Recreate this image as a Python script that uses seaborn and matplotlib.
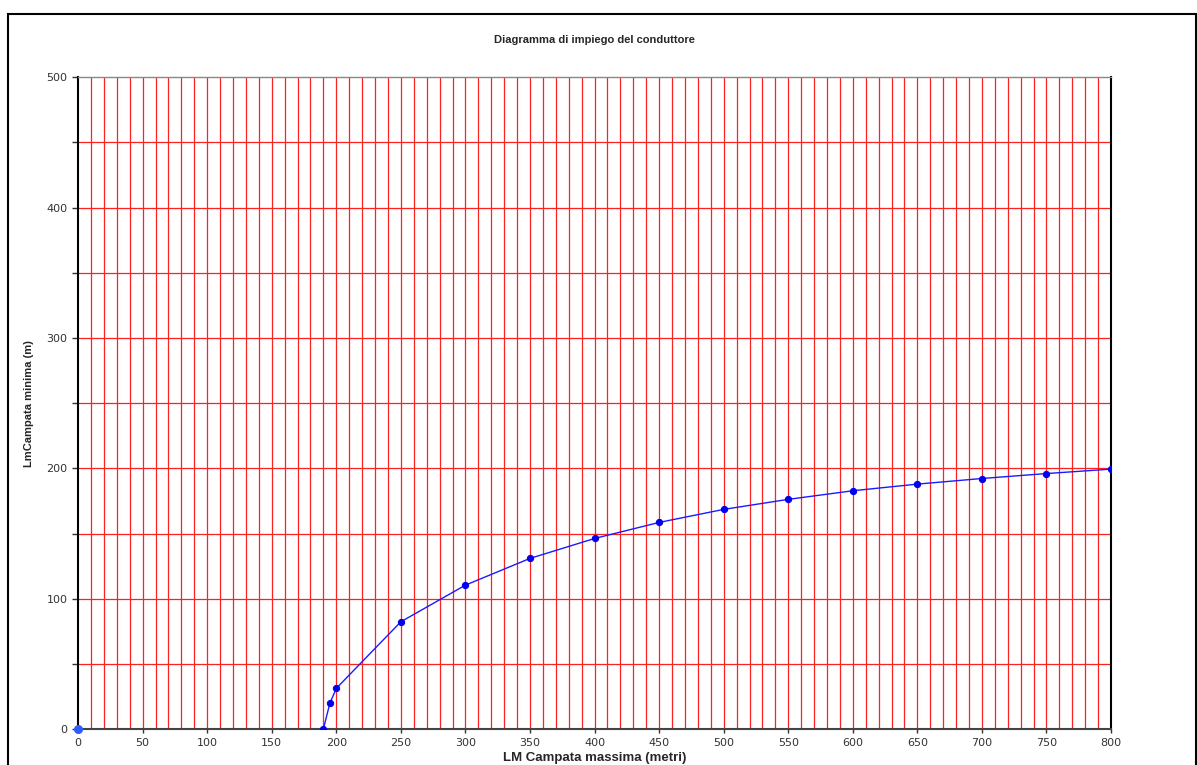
"""
Diagramma di impiego del conduttore: campata minima vs campata massima.
"""

import numpy as np
import pandas as pd
import seaborn as sns
import matplotlib.pyplot as plt
from matplotlib.patches import Rectangle
from matplotlib.ticker import MultipleLocator

# Data
campata_massima = [190, 195, 200, 250, 300, 350, 400, 450, 500, 550, 600, 650, 700, 750, 800]
campata_minima = [0, 19.7, 31.2, 82.3, 110.4, 130.9, 146.2, 158.5, 168.5, 176.2, 182.8, 187.9, 192.2, 196.0, 199.4]
origin_x = [0]
origin_y = [0]

TITLE = "Diagramma di impiego del conduttore"
XLABEL = "LM Campata massima (metri)"
YLABEL = "LmCampata minima (m)"


def main():
    sns.set_style("white")
    plt.rcParams["font.family"] = ["Liberation Sans", "DejaVu Sans"]

    df = pd.DataFrame({"x": campata_massima, "y": campata_minima})

    fig = plt.figure(figsize=(11.97, 7.65), dpi=100)
    ax = fig.add_axes([0.0652, 0.047, 0.8630, 0.852])

    # Grid: red verticals every 10, red horizontals every 50
    for xv in np.arange(10, 800, 10):
        ax.axvline(xv, color="#ff2020", linewidth=0.9, zorder=1)
    for yv in np.arange(50, 500, 50):
        ax.axhline(yv, color="#ff2020", linewidth=0.9, zorder=1)

    sns.lineplot(
        data=df, x="x", y="y", ax=ax, color="#1a1aff", linewidth=1.0,
        marker="o", markersize=4.5, markeredgecolor="#0000ee",
        markerfacecolor="#0000ee", zorder=3,
    )
    ax.plot(origin_x, origin_y, "o", color="#2f5cff", markersize=5.5,
            zorder=4, clip_on=False)

    ax.set_xlim(0, 800)
    ax.set_ylim(0, 500)
    ax.xaxis.set_major_locator(MultipleLocator(50))
    ax.yaxis.set_major_locator(MultipleLocator(100))
    ax.yaxis.set_minor_locator(MultipleLocator(50))
    ax.tick_params(axis="both", which="major", labelsize=8, colors="#333333",
                   length=4, width=1, direction="out")
    ax.tick_params(axis="y", which="minor", length=4, width=1, color="#333333",
                   left=True)
    ax.tick_params(axis="x", which="major", length=3, bottom=True)
    ax.tick_params(axis="y", left=True)
    for lab in ax.get_xticklabels() + ax.get_yticklabels():
        lab.set_family("DejaVu Sans")

    for side in ["left", "right"]:
        ax.spines[side].set_color("black")
        ax.spines[side].set_linewidth(1.5)
    ax.spines["bottom"].set_color("#444444")
    ax.spines["bottom"].set_linewidth(1.5)
    ax.spines["top"].set_color("#888888")
    ax.spines["top"].set_linewidth(1.0)

    ax.set_xlabel(XLABEL, fontsize=9.5, fontweight="bold", labelpad=3)
    ax.set_ylabel(YLABEL, fontsize=8, fontweight="bold", labelpad=9)
    ax.set_title(TITLE, fontsize=8, fontweight="bold", pad=24.5)

    # Outer chart border
    fig.add_artist(Rectangle((8 / 1197, -0.01), 1188 / 1197, 1 - 14 / 765 + 0.01,
                             transform=fig.transFigure, fill=False,
                             edgecolor="black", linewidth=1.5))

    fig.savefig("out.png", dpi=100)
    plt.close(fig)


if __name__ == "__main__":
    main()
